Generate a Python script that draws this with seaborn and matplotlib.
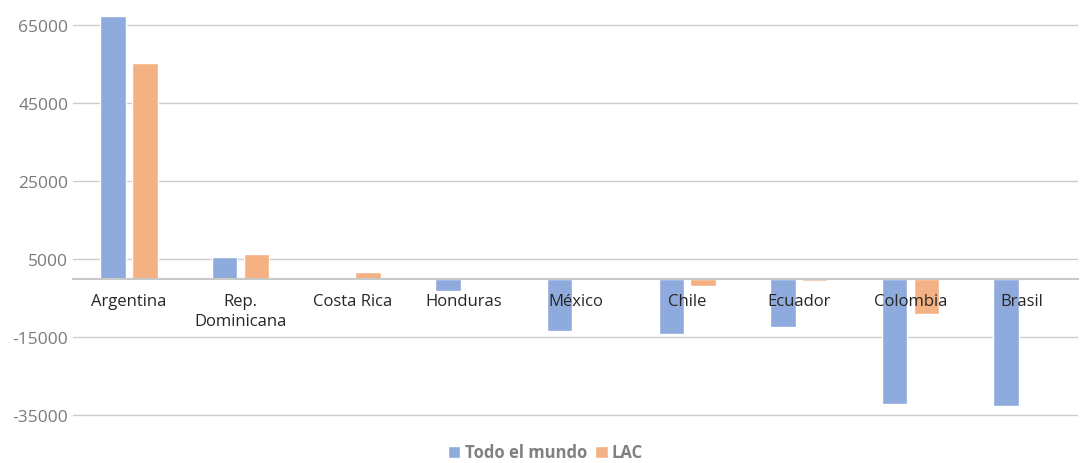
import pandas as pd
import matplotlib.pyplot as plt
import seaborn as sns

paises = ['Argentina', 'Rep.\nDominicana', 'Costa Rica', 'Honduras', 'México',
          'Chile', 'Ecuador', 'Colombia', 'Brasil']
todo_mundo = [67300, 5500, 200, -3100, -13400, -14200, -12400, -32100, -32600]
lac = [55300, 6300, 1600, 300, 0, -2000, -700, -9000, -200]
series = ['Todo el mundo', 'LAC']
y_ticks = [-35000, -15000, 5000, 25000, 45000, 65000]

df = pd.DataFrame({
    'pais': paises * 2,
    'valor': todo_mundo + lac,
    'serie': [series[0]] * len(paises) + [series[1]] * len(paises),
})

sns.set_style('white')
plt.rcParams['font.family'] = ['Open Sans', 'DejaVu Sans']

fig = plt.figure(figsize=(10.91, 4.64), dpi=100)
ax = fig.add_axes([0.067, 0.099, 0.921, 0.901])

sns.barplot(data=df, x='pais', y='valor', hue='serie', order=paises,
            hue_order=series, palette=['#8FAADC', '#F4B183'],
            width=0.57, gap=0.2, saturation=1, ax=ax, legend=True)

ax.set_ylim(-35500, 71700)
ax.set_xlim(-0.5, len(paises) - 0.5)
ax.set_yticks(y_ticks)
ax.set_yticklabels([str(v) for v in y_ticks], fontsize=12.5, color='#7a7a7a')
ax.yaxis.grid(True, color='#cccccc', lw=1)
ax.set_axisbelow(True)
ax.xaxis.set_zorder(3)
for s in ['top', 'right', 'left']:
    ax.spines[s].set_visible(False)
ax.spines['bottom'].set_position(('data', 0))
ax.spines['bottom'].set_color('#c8c8c8')
ax.spines['bottom'].set_linewidth(1.5)
ax.tick_params(axis='both', length=0)
ax.tick_params(axis='x', pad=10)
for lbl in ax.get_xticklabels():
    lbl.set_fontsize(12)
    lbl.set_color('#262626')
    lbl.set_linespacing(1.35)
ax.set_xlabel('')
ax.set_ylabel('')

leg = ax.legend(loc='lower center', bbox_to_anchor=(0.47, -0.142), ncol=2,
                frameon=False, handlelength=0.75, handleheight=0.75,
                handletextpad=0.25, columnspacing=0.5,
                prop={'weight': 'bold', 'size': 12})
for t in leg.get_texts():
    t.set_color('#808080')

fig.savefig('out.png', dpi=100)
